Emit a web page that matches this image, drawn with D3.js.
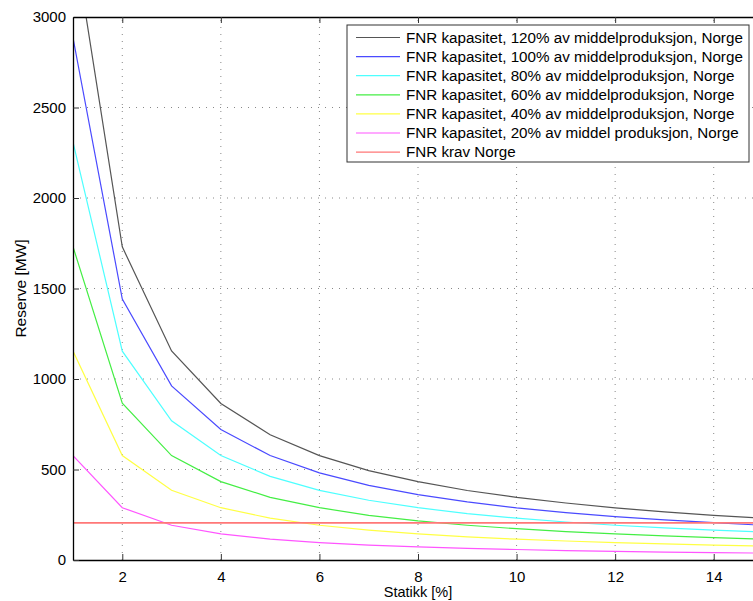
<!DOCTYPE html>
<html>
<head>
<meta charset="utf-8">
<script src="https://d3js.org/d3.v7.min.js"></script>
<style>
  body { margin: 0; background: #fff; }
  text { font-family: "Liberation Sans", Arial, sans-serif; fill: #000; }
  .grid line { stroke: #888; stroke-width: 1px; stroke-dasharray: 1,6; }
</style>
</head>
<body>
<div id="chart"></div>
<script>
// x values (Statikk %)
const statikk = [1, 2, 3, 4, 5, 6, 7, 8, 9, 10, 11, 12, 13, 14, 15];

// reserve values [MW]
const kap120 = [3460, 1730, 1155, 865, 692, 577, 494, 433, 384, 346, 315, 288, 266, 247, 231];
const kap100 = [2885, 1442, 962, 721, 577, 481, 412, 361, 321, 288, 262, 240, 222, 206, 192];
const kap80  = [2308, 1154, 769, 577, 462, 385, 330, 289, 256, 231, 210, 192, 178, 165, 154];
const kap60  = [1731, 866, 577, 433, 346, 289, 247, 216, 192, 173, 157, 144, 133, 124, 115];
const kap40  = [1154, 577, 385, 289, 231, 192, 165, 144, 128, 115, 105, 96, 89, 82, 77];
const kap20  = [577, 289, 192, 144, 115, 96, 82, 72, 64, 58, 52, 48, 44, 41, 38];
const krav   = [205, 205, 205, 205, 205, 205, 205, 205, 205, 205, 205, 205, 205, 205, 205];

const xTicks = [2, 4, 6, 8, 10, 12, 14];
const yTicks = [0, 500, 1000, 1500, 2000, 2500, 3000];

const series = [
  {name: "FNR kapasitet, 120% av middelproduksjon, Norge", values: kap120, color: "#555555"},
  {name: "FNR kapasitet, 100% av middelproduksjon, Norge", values: kap100, color: "#4a4aff"},
  {name: "FNR kapasitet, 80% av middelproduksjon, Norge", values: kap80, color: "#4dffff"},
  {name: "FNR kapasitet, 60% av middelproduksjon, Norge", values: kap60, color: "#44ee44"},
  {name: "FNR kapasitet, 40% av middelproduksjon, Norge", values: kap40, color: "#ffff44"},
  {name: "FNR kapasitet, 20% av middel produksjon, Norge", values: kap20, color: "#ff55ff"},
  {name: "FNR krav Norge", values: krav, color: "#ff7777"}
];

const W = 753, H = 601;
const margin = {top: 17, left: 73};
const plotW = 690, plotH = 543;

const svg = d3.select("#chart").append("svg")
  .attr("width", W).attr("height", H);

const x = d3.scaleLinear().domain([1, 15]).range([margin.left, margin.left + plotW]);
const y = d3.scaleLinear().domain([0, 3000]).range([margin.top + plotH, margin.top]);

svg.append("clipPath").attr("id", "clip")
  .append("rect")
  .attr("x", margin.left).attr("y", margin.top)
  .attr("width", plotW).attr("height", plotH);

// grid
const grid = svg.append("g").attr("class", "grid");
grid.selectAll(".gx").data(xTicks).join("line")
  .attr("x1", d => x(d)).attr("x2", d => x(d))
  .attr("y1", y(0)).attr("y2", y(3000));
grid.selectAll(".gy").data(yTicks.slice(1, -1)).join("line")
  .attr("x1", x(1)).attr("x2", x(15))
  .attr("y1", d => y(d)).attr("y2", d => y(d));

// lines
const line = d3.line().x((d, i) => x(statikk[i])).y(d => y(d));
svg.append("g").attr("clip-path", "url(#clip)")
  .selectAll("path").data(series).join("path")
  .attr("d", d => line(d.values))
  .attr("fill", "none")
  .attr("stroke", d => d.color)
  .attr("stroke-width", d => d.name === "FNR krav Norge" ? 1.6 : 1.2);

// axes (matlab style, ticks inside)
svg.append("g")
  .attr("transform", `translate(0,${y(0)})`)
  .call(d3.axisBottom(x).tickValues(xTicks).tickSizeInner(-6).tickSizeOuter(0).tickPadding(11))
  .call(g => g.select(".domain").attr("stroke", "#000").attr("stroke-width", 1.3));
svg.append("g")
  .attr("transform", `translate(${x(1)},0)`)
  .call(d3.axisLeft(y).tickValues(yTicks).tickFormat(d3.format("d")).tickSizeInner(-6).tickSizeOuter(0).tickPadding(7))
  .call(g => g.select(".domain").attr("stroke", "#000").attr("stroke-width", 1.3));
svg.append("g")
  .attr("transform", `translate(0,${y(3000)})`)
  .call(d3.axisTop(x).tickValues(xTicks).tickSizeInner(-6).tickSizeOuter(0).tickFormat(""))
  .call(g => g.select(".domain").attr("stroke", "#000").attr("stroke-width", 1.3));

svg.selectAll(".tick line").attr("stroke", "#333");
svg.selectAll(".tick text")
  .attr("font-family", "'Liberation Sans', Arial, sans-serif")
  .attr("font-size", 15).attr("fill", "#000");

// axis labels
svg.append("text")
  .attr("x", x(8)).attr("y", 597)
  .attr("text-anchor", "middle")
  .style("font-size", "14.5px")
  .text("Statikk [%]");
svg.append("text")
  .attr("transform", `translate(26,${y(1500)}) rotate(-90)`)
  .attr("text-anchor", "middle")
  .style("font-size", "15.5px")
  .text("Reserve [MW]");

// legend
const legend = svg.append("g").attr("transform", "translate(347,25)");
legend.append("rect")
  .attr("width", 402).attr("height", 137)
  .attr("fill", "#fff").attr("stroke", "#333").attr("stroke-width", 1);
const rows = legend.selectAll(".row").data(series).join("g")
  .attr("transform", (d, i) => `translate(0,${12.5 + i * 19.1})`);
rows.append("line")
  .attr("x1", 9).attr("x2", 53)
  .attr("stroke", d => d.color).attr("stroke-width", 1.2);
rows.append("text")
  .attr("x", 59).attr("dy", "0.35em")
  .style("font-size", "15.2px")
  .text(d => d.name);
</script>
</body>
</html>
